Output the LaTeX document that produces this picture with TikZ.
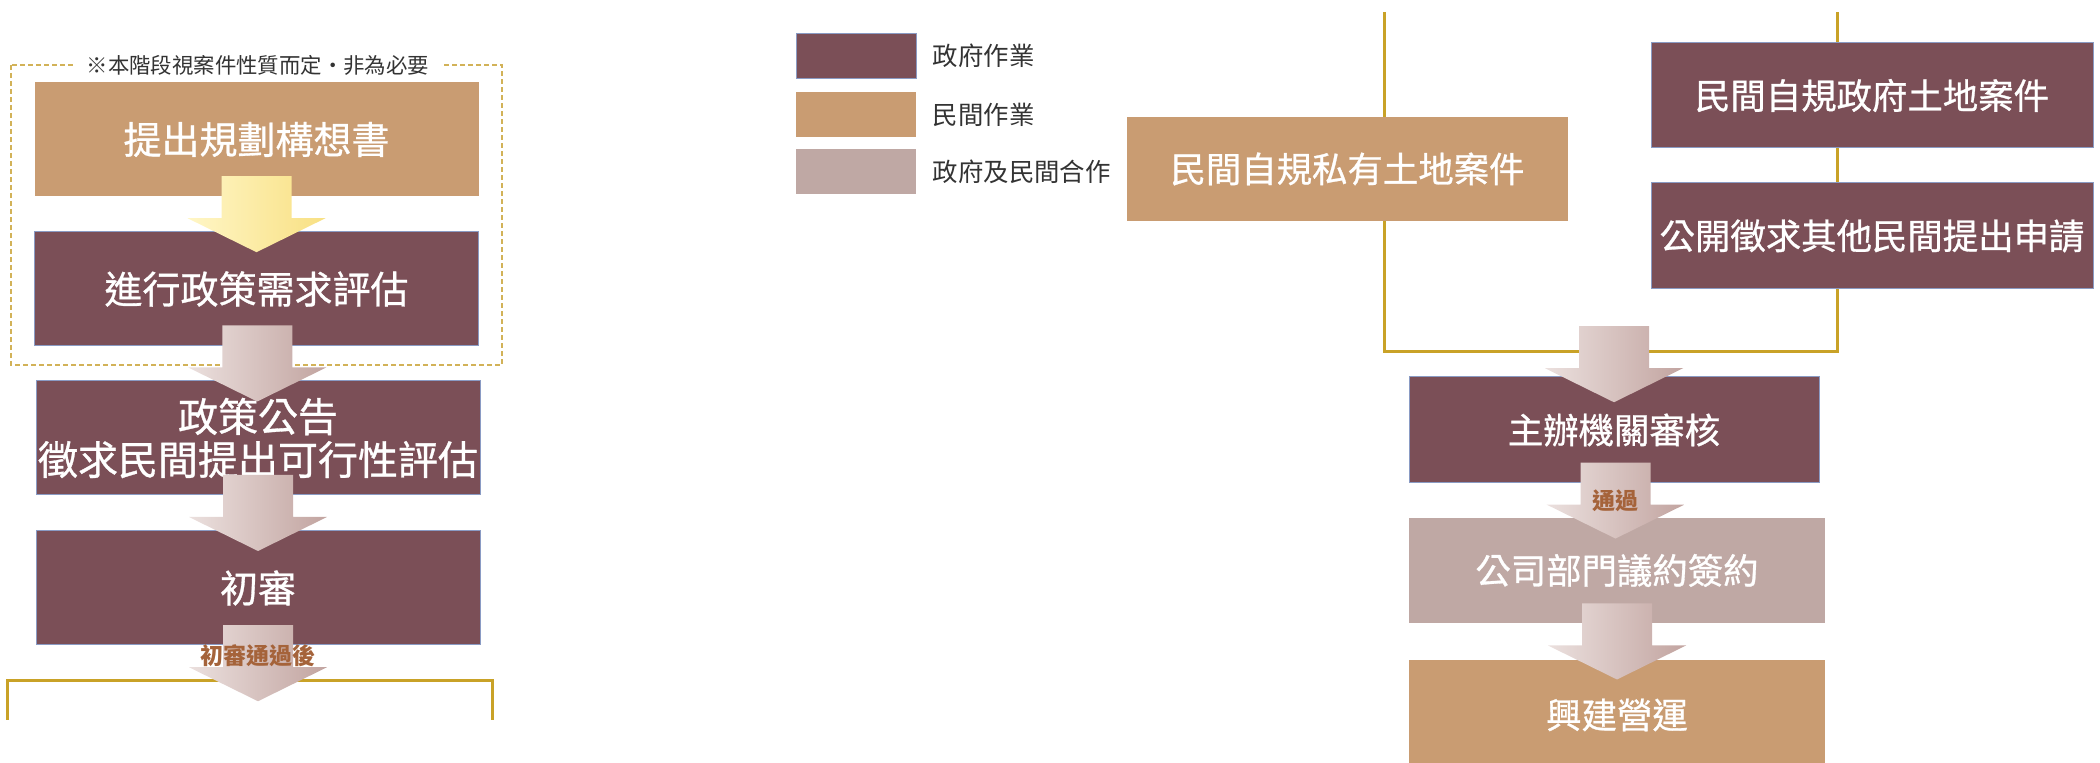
\documentclass[tikz,border=0pt]{standalone}
\usepackage{fontspec}
\newfontfamily\cjk{Noto Sans CJK TC}
\newfontfamily\cjkbox[FakeBold=0.8]{Noto Sans CJK TC}
\usetikzlibrary{positioning,calc,backgrounds}

\definecolor{govred}{HTML}{7B4F57}
\definecolor{privtan}{HTML}{C99C72}
\definecolor{jointpink}{HTML}{BFA8A4}
\definecolor{goldline}{HTML}{C9A227}
\definecolor{dashgold}{HTML}{D2B258}
\definecolor{edgeblue}{HTML}{8A9BC4}
\definecolor{labelbrown}{HTML}{A5633A}
\definecolor{mauvelight}{HTML}{EBE0DE}
\definecolor{mauvedark}{HTML}{C2A4A0}
\definecolor{yellowlight}{HTML}{FFF6C6}
\definecolor{yellowdark}{HTML}{F8E083}

\tikzset{
  box/.style={rectangle, inner sep=0pt, text=white, align=center, font=\cjkbox\fontsize{19}{24}\selectfont},
  gov/.style={box, fill=govred, draw=edgeblue, line width=0.5pt},
  priv/.style={box, fill=privtan},
  joint/.style={box, fill=jointpink},
  leftbox/.style={minimum width=222pt, minimum height=57pt},
  rightbox/.style={font=\cjkbox\fontsize{17.7}{22}\selectfont},
  key/.style={rectangle, minimum width=60pt, minimum height=22.5pt, inner sep=0pt},
  keytext/.style={font=\cjk\fontsize{12.7}{15}\selectfont, text=black!80, inner sep=0pt},
  passlabel/.style={font=\cjk\bfseries\fontsize{11.5}{14}\selectfont, text=labelbrown},
  goldpath/.style={draw=goldline, line width=1.5pt},
  mauvefade/.style={left color=mauvelight, right color=mauvedark},
  yellowfade/.style={left color=yellowlight, right color=yellowdark},
  pics/downarrow/.style={code={
    \path[#1] (-35,-38) -- (35,-38) -- (35,4) -- (69,4) -- (0,38) -- (-69,4) -- (-35,4) -- cycle;
  }}
}

\begin{document}
\begin{tikzpicture}[x=0.5pt, y=-0.5pt]
    \path[use as bounding box, clip] (0,0) rectangle (2100,763);

    % optional stage
    \draw[dashgold, line width=0.8pt, dash pattern=on 2.5pt off 1.5pt] (11,65) rectangle (502,365);
    \node[fill=white, font=\cjk\fontsize{10.7}{13}\selectfont, text=black!80, inner xsep=6pt, inner ysep=1pt] (stagenote) at (258,65) {※本階段視案件性質而定・非為必要};

    % left column
    \node[priv, leftbox] (plan) at (256.5,139.5) {提出規劃構想書};
    \node[gov, leftbox] (needs) at (256.5,289) {進行政策需求評估};
    \node[gov, leftbox, font=\cjkbox\fontsize{20}{21.5}\selectfont] (notice) at (258,438) {政策公告\\徵求民間提出可行性評估};
    \node[gov, leftbox] (firstcheck) at (258,588) {初審};

    \coordinate (barL1) at (7,720);
    \coordinate (barL2) at (7,681);
    \coordinate (barR2) at (492,681);
    \coordinate (barR1) at (492,720);
    \coordinate (leftbar) at (258,681);
    \draw[goldpath] (barL1) -- (barL2) -- (barR2) -- (barR1);

    \pic at ($(plan.south)!0.5!(needs.north)$) {downarrow=yellowfade};
    \pic at ($(needs.south)!0.5!(notice.north)$) {downarrow=mauvefade};
    \pic at ($(notice.south)!0.5!(firstcheck.north)$) {downarrow=mauvefade};
    \pic at ($(firstcheck.south)!0.5!(leftbar)$) {downarrow=mauvefade};
    \node[passlabel] at ($(firstcheck.south)!0.5!(leftbar)+(0,-8)$) {初審通過後};

    % legend
    \node[key, fill=govred, draw=edgeblue, line width=0.4pt] (govkey) at (856,55.5) {};
    \node[keytext, right=8pt of govkey] {政府作業};
    \node[key, fill=privtan] (privkey) at (856,114.5) {};
    \node[keytext, right=8pt of privkey] {民間作業};
    \node[key, fill=jointpink] (jointkey) at (856,171.5) {};
    \node[keytext, right=8pt of jointkey] {政府及民間合作};

    % right column
    \node[priv, rightbox, minimum width=220.5pt, minimum height=52pt] (privland) at (1347.5,169) {民間自規私有土地案件};
    \node[gov, rightbox, minimum width=221pt, minimum height=52.5pt] (govland) at (1872,95.5) {民間自規政府土地案件};
    \node[gov, rightbox, minimum width=221pt, minimum height=53pt] (opencall) at (1872,236) {公開徵求其他民間提出申請};

    \coordinate (topA) at (1384,12);
    \coordinate (cornA) at (1384,352);
    \coordinate (cornB) at (1837,352);
    \coordinate (topB) at (1837,12);
    \coordinate (mergebar) at (1614,352);
    \begin{scope}[on background layer]
        \draw[goldpath] (topA) -- (cornA) -- (cornB) -- (topB);
    \end{scope}

    \node[gov, rightbox, minimum width=205pt, minimum height=53pt] (review) at (1614,430) {主辦機關審核};
    \node[joint, rightbox, minimum width=208pt, minimum height=52.5pt] (contract) at (1617,570.5) {公司部門議約簽約};
    \node[priv, rightbox, minimum width=208pt, minimum height=55pt] (operate) at (1617,715) {興建營運};

    \pic at ($(mergebar)!0.5!(review.north)$) {downarrow=mauvefade};
    \pic at ($(review.south)!0.5!(contract.north)$) {downarrow=mauvefade};
    \node[passlabel] at ($(review.south)!0.5!(contract.north)$) {通過};
    \pic at ($(contract.south)!0.5!(operate.north)$) {downarrow=mauvefade};
\end{tikzpicture}
\end{document}
